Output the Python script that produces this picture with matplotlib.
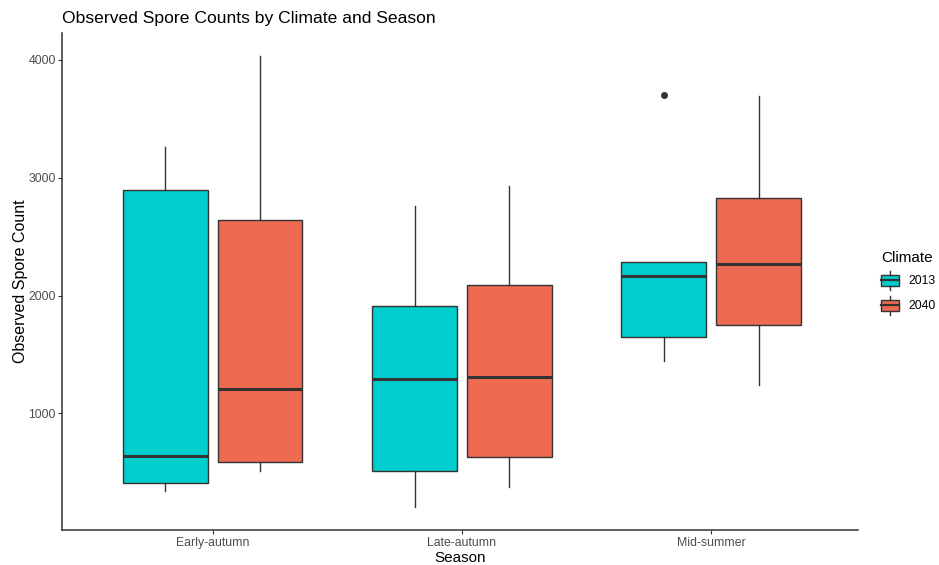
import matplotlib.pyplot as plt
from matplotlib.legend_handler import HandlerBase
from matplotlib.patches import Rectangle
from matplotlib.lines import Line2D

plt.rcParams['font.family'] = ['Liberation Sans', 'DejaVu Sans']

# Box summaries per season, one list per climate scenario
seasons = ['Early-autumn', 'Late-autumn', 'Mid-summer']
climates = ['2013', '2040']
colors = {'2013': '#00CDCD', '2040': '#EE6A50'}

whislo = {'2013': [339, 203, 1441], '2040': [508, 373, 1237]}
q1 = {'2013': [407, 508, 1644], '2040': [585, 627, 1754]}
med = {'2013': [636, 1288, 2169], '2040': [1203, 1305, 2271]}
q3 = {'2013': [2898, 1907, 2288], '2040': [2644, 2085, 2831]}
whishi = {'2013': [3263, 2763, 2288], '2040': [4030, 2932, 3695]}
fliers = {'2013': [[], [], [3703]], '2040': [[], [], []]}

edge = '#333333'
offsets = {'2013': -0.19, '2040': 0.19}

fig = plt.figure(figsize=(9.39, 5.65), dpi=100)
ax = fig.add_axes([0.066, 0.062, 0.848, 0.88])

for clim in climates:
    stats = []
    for i in range(len(seasons)):
        stats.append({'whislo': whislo[clim][i], 'q1': q1[clim][i], 'med': med[clim][i],
                      'q3': q3[clim][i], 'whishi': whishi[clim][i], 'fliers': fliers[clim][i]})
    pos = [i + 1 + offsets[clim] for i in range(len(seasons))]
    ax.bxp(stats, positions=pos, widths=0.34, patch_artist=True, showcaps=False,
           boxprops=dict(facecolor=colors[clim], edgecolor=edge, linewidth=1.0),
           medianprops=dict(color=edge, linewidth=2.2),
           whiskerprops=dict(color=edge, linewidth=1.0),
           flierprops=dict(marker='o', markerfacecolor=edge, markeredgecolor=edge, markersize=4),
           manage_ticks=False, zorder=2)

ax.set_xlim(0.395, 3.59)
ax.set_ylim(11, 4229)
ax.set_xticks([1, 2, 3])
ax.set_xticklabels(seasons)
ax.set_yticks([1000, 2000, 3000, 4000])
ax.tick_params(axis='both', colors='#333333', labelcolor='#4D4D4D', labelsize=8.8, length=3, width=0.8)
ax.tick_params(axis='x', pad=2)
ax.tick_params(axis='y', pad=1.5)

for side in ['top', 'right']:
    ax.spines[side].set_visible(False)
for side in ['left', 'bottom']:
    ax.spines[side].set_linewidth(1.1)
    ax.spines[side].set_color('#333333')

ax.set_xlabel('Season', fontsize=11, labelpad=1.5)
ax.set_ylabel('Observed Spore Count', fontsize=11.5, labelpad=0.5)
ax.set_title('Observed Spore Counts by Climate and Season', fontsize=12.6, loc='left', x=0.0, pad=7)


# Legend keys drawn as tiny boxplots
class BoxKey(HandlerBase):
    def create_artists(self, legend, orig_handle, xdescent, ydescent, width, height, fontsize, trans):
        x0, y0 = -xdescent, -ydescent
        cx = x0 + width / 2
        lo, hi = y0 + height * 0.2, y0 + height * 0.8
        box = Rectangle((x0, lo), width, hi - lo,
                        facecolor=orig_handle.get_facecolor(), edgecolor=edge, linewidth=1.0, transform=trans)
        mid = Line2D([x0, x0 + width], [y0 + height / 2] * 2, color=edge, linewidth=1.6, transform=trans)
        top = Line2D([cx, cx], [hi, y0 + height], color=edge, linewidth=1.0, transform=trans)
        bot = Line2D([cx, cx], [y0, lo], color=edge, linewidth=1.0, transform=trans)
        return [box, mid, top, bot]


handles = [Rectangle((0, 0), 1, 1, facecolor=colors[c]) for c in climates]
leg = ax.legend(handles, climates, title='Climate', loc='center left', bbox_to_anchor=(1.023, 0.497),
                frameon=False, fontsize=8.8, title_fontsize=11, handler_map={Rectangle: BoxKey()},
                handlelength=1.45, handleheight=2.0, handletextpad=0.75, labelspacing=0.5,
                borderaxespad=0.0)
leg._legend_box.align = 'left'

fig.savefig('out.png', dpi=100)
